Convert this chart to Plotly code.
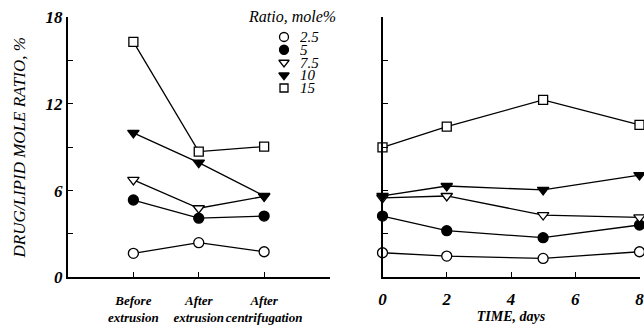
import plotly.graph_objects as go

# ---------------- data ----------------
ratio_labels = ["2.5", "5", "7.5", "10", "15"]
stages = ["Before<br>extrusion", "After<br>extrusion", "After<br>centrifugation"]
stage_pos = [1, 2, 3]
days = [0, 2, 5, 8]

stage_values = {
    "2.5": [1.66, 2.4, 1.77],
    "5": [5.35, 4.09, 4.24],
    "7.5": [6.74, 4.78, 5.6],
    "10": [10.0, 7.94, 5.63],
    "15": [16.3, 8.7, 9.05],
}
time_values = {
    "2.5": [1.7, 1.47, 1.31, 1.77],
    "5": [4.24, 3.23, 2.74, 3.62],
    "7.5": [5.5, 5.63, 4.31, 4.15],
    "10": [5.63, 6.32, 6.05, 7.08],
    "15": [9.0, 10.43, 12.28, 10.55],
}
y_ticks = [0, 3, 6, 9, 12, 15, 18]
y_tick_text = ["0", "", "6", "", "12", "", "18"]
x_ticks_time = [0, 2, 4, 6, 8]

# ---------------- styles ----------------
symbols = {"2.5": "circle", "5": "circle", "7.5": "triangle-down",
           "10": "triangle-down", "15": "square"}
fills = {"2.5": "white", "5": "black", "7.5": "white", "10": "black", "15": "white"}
sizes = {"2.5": 10, "5": 10, "7.5": 10, "10": 10, "15": 9}

SERIF = "Liberation Serif"
W, H = 644, 326

fig = go.Figure()

for r in ratio_labels:
    mk = dict(symbol=symbols[r], size=sizes[r], color=fills[r],
              line=dict(color="black", width=1.3))
    fig.add_trace(go.Scatter(x=stage_pos, y=stage_values[r], mode="lines+markers",
                             line=dict(color="black", width=1.3), marker=mk,
                             xaxis="x", yaxis="y", showlegend=False, cliponaxis=False))
    fig.add_trace(go.Scatter(x=days, y=time_values[r], mode="lines+markers",
                             line=dict(color="black", width=1.3), marker=mk,
                             xaxis="x2", yaxis="y2", showlegend=False, cliponaxis=False))

# legend keys on a hidden axis
for i, r in enumerate(ratio_labels):
    fig.add_trace(go.Scatter(x=[0.15], y=[i], mode="markers",
                             marker=dict(symbol=symbols[r], size=sizes[r] - 1, color=fills[r],
                                         line=dict(color="black", width=1.3)),
                             xaxis="x3", yaxis="y3", showlegend=False, cliponaxis=False))
    fig.add_annotation(x=0.4, y=i, xref="x3", yref="y3", text=r, showarrow=False,
                       xanchor="left", yanchor="middle", height=12, borderpad=0,
                       font=dict(family=SERIF, size=15, style="italic", color="black"))

fig.add_annotation(x=246 / W, y=1 - 16 / H, xref="paper", yref="paper",
                   text="Ratio, mole%", showarrow=False, xanchor="left", yanchor="middle",
                   font=dict(family=SERIF, size=16, style="italic", color="black"))

ydom = [1 - 277.3 / H, 1 - 17.3 / H]
tickfont = dict(family=SERIF, size=17, style="italic", weight="bold", color="black")
catfont = dict(family=SERIF, size=13, style="italic", weight="bold", color="black")

common_axis = dict(showgrid=False, zeroline=False, showline=True, linecolor="black",
                   linewidth=2, ticks="inside", tickcolor="black", tickwidth=1.3, ticklen=5,
                   automargin=False)

fig.update_layout(
    width=W, height=H, margin=dict(l=0, r=0, t=0, b=0),
    plot_bgcolor="rgba(0,0,0,0)", paper_bgcolor="white",
    xaxis=dict(domain=[68 / W, 329.5 / W], range=[0, 4], anchor="y",
               tickvals=stage_pos + [4], ticktext=stages + [""], tickangle=0,
               tickfont=catfont, ticklabelstandoff=10, **common_axis),
    yaxis=dict(domain=ydom, range=[0, 18], anchor="x",
               tickvals=y_ticks, ticktext=y_tick_text, tickfont=tickfont,
               title=dict(text="DRUG/LIPID MOLE RATIO, %", standoff=16,
                          font=dict(family=SERIF, size=17, style="italic",
                                    color="black")),
               **common_axis),
    xaxis2=dict(domain=[382.5 / W, 639.5 / W], range=[0, 8], anchor="y2",
                tickvals=x_ticks_time, ticktext=[str(v) for v in x_ticks_time], tickangle=0,
                tickfont=tickfont, ticklabelstandoff=5, ticklabeloverflow="allow",
                title=dict(text="TIME, days", standoff=0,
                           font=dict(family=SERIF, size=14, style="italic", weight="bold",
                                     color="black")),
                **common_axis),
    yaxis2=dict(domain=ydom, range=[0, 18], anchor="x2", dtick=3, showticklabels=False,
                **common_axis),
    xaxis3=dict(domain=[275 / W, 335 / W], range=[0, 1], visible=False, anchor="y3"),
    yaxis3=dict(domain=[1 - 94.4 / H, 1 - 30.6 / H], range=[4.5, -0.5], visible=False,
                anchor="x3"),
)

fig.write_html("out.html", config={"displayModeBar": False},
               post_script="document.body.style.margin='0';document.body.style.overflow='hidden';")
